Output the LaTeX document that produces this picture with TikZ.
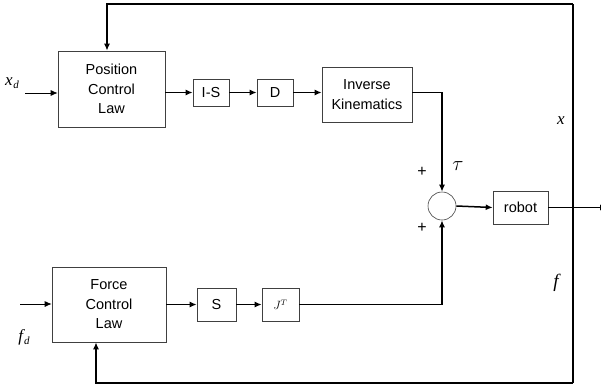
\documentclass[tikz,border=0pt]{standalone}
\usepackage{fontspec}
\setmainfont{Liberation Sans}
\newfontfamily\lblfont{Liberation Serif}
\usetikzlibrary{arrows.meta}
\begin{document}
\begin{tikzpicture}[x=1pt,y=-1pt,
  blk/.style={draw=black!75,line width=0.6pt,inner sep=0pt,align=center,
    font=\fontsize{14.5}{19.5}\selectfont},
  sumnode/.style={circle,draw=black!75,line width=0.6pt,minimum size=28pt,inner sep=0pt},
  sig/.style={line width=1.5pt,-{Latex[length=7pt,width=6pt]}},
  wire/.style={line width=1.5pt},
  thinsig/.style={line width=0.8pt,-{Latex[length=7pt,width=6pt]}},
  lbl/.style={font=\fontsize{17}{17}\selectfont\lblfont\itshape,inner sep=0pt},
  pm/.style={font=\fontsize{16}{16}\selectfont,inner sep=0pt}]
\useasboundingbox (0,0) rectangle (601,388);

% blocks
\node[blk,minimum width=107pt,minimum height=76pt] (pcl) at (111.5,89) {Position\\Control\\Law};
\node[blk,minimum width=36pt,minimum height=27pt] (is) at (211,92.5) {I-S};
\node[blk,minimum width=36pt,minimum height=27pt] (d) at (275,92.5) {D};
\node[blk,minimum width=90pt,minimum height=55pt] (ik) at (367,94.5) {Inverse\\Kinematics};
\node[sumnode] (sum) at (442,206) {};
\node[blk,minimum width=55pt,minimum height=33pt] (robot) at (520.5,207.5) {robot};
\node[blk,minimum width=114pt,minimum height=75pt] (fcl) at (109,304.5) {Force\\Control\\Law};
\node[blk,minimum width=39pt,minimum height=33pt] (s) at (216.5,304.5) {S};
\node[blk,minimum width=37pt,minimum height=33pt] (jt) at (280.5,304.5) {\fontsize{12}{12}\selectfont$J^T$};

% rail points
\coordinate (xin) at (25,93);
\coordinate (fin) at (20,304);
\coordinate (tr) at (573,4);
\coordinate (br) at (573,383);
\coordinate (tl) at (107,4);
\coordinate (bl) at (96,383);
\coordinate (out) at (608,207.5);

% forward paths
\draw[sig] (pcl.east |- is.west) -- (is.west);
\draw[sig] (is) -- (d);
\draw[sig] (d.east) -- (ik.west |- d.east);
\draw[sig] (ik.east |- d.east) -| (sum.north);
\draw[sig] (fcl.east |- s.west) -- (s.west);
\draw[sig] (s) -- (jt);
\draw[sig] (jt.east) -| (sum.south);
\draw[sig] (sum.east) -- (robot.west);

% feedback rail
\draw[wire] (tr) -- (br);
\draw[sig] (tr) -- (tl) -- (tl |- pcl.north);
\draw[sig] (br) -- (bl) -- (bl |- fcl.south);

% output leaving the picture
\begin{scope}
\clip (0,0) rectangle (601,388);
\draw[line width=1.2pt,-{Latex[length=8pt,width=6pt]}] (robot.east) -- (out);
\end{scope}

% inputs
\draw[thinsig] (xin) -- (xin -| pcl.west);
\draw[thinsig] (fin) -- (fin -| fcl.west);

% labels
\node[lbl] (xd) at (12,83) {x\kern0.5pt\raisebox{-3pt}{\fontsize{11}{11}\selectfont d}};
\node[lbl] (fd) at (24,337) {f\kern1pt\raisebox{-3pt}{\fontsize{11}{11}\selectfont d}};
\node[pm] (p1) at (422,172) {+};
\node[pm] (p2) at (422,228) {+};
\node[lbl,font=\fontsize{20}{20}\selectfont] (tau) at (458,166) {$\tau$};
\node[lbl] (xl) at (561,121) {x};
\node[lbl,font=\fontsize{19}{19}\selectfont\lblfont\itshape] (fl) at (556,283) {f};
\end{tikzpicture}
\end{document}
